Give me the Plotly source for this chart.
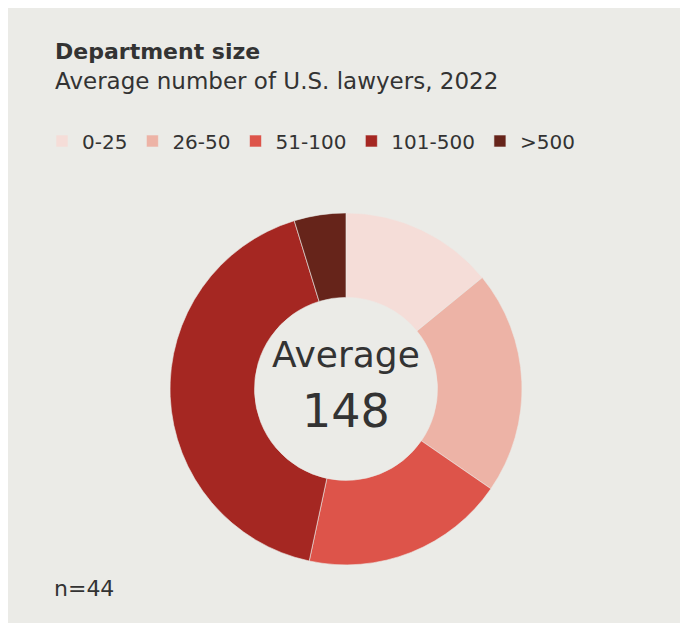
import plotly.graph_objects as go

categories = ["0-25", "26-50", "51-100", "101-500", ">500"]
shares = [14.1, 20.5, 18.75, 41.9, 4.75]
colors = ["#F5DDD8", "#EDB3A6", "#DD544A", "#A52722", "#66241A"]
title_text = "Department size"
subtitle_text = "Average number of U.S. lawyers, 2022"
center_label = "Average"
center_value = "148"
note_text = "n=44"

W, H = 680, 615
BG = "#EBEBE7"
TXT = "#333333"
FONT = "DejaVu Sans"

fig = go.Figure(go.Pie(
    labels=categories,
    values=shares,
    marker=dict(colors=colors, line=dict(color=BG, width=0.6)),
    hole=0.52,
    sort=False,
    direction="clockwise",
    rotation=0,
    textinfo="none",
    hoverinfo="label+percent",
    domain=dict(x=[0.2382, 0.7559], y=[0.0945, 0.6668]),
))

fig.update_layout(
    width=W, height=H,
    margin=dict(l=0, r=0, t=0, b=0),
    paper_bgcolor=BG,
    plot_bgcolor=BG,
    font=dict(family=FONT, color=TXT),
    showlegend=True,
    legend=dict(
        orientation="h",
        x=0.05, y=1 - 133 / H, xanchor="left", yanchor="middle",
        font=dict(size=20, color=TXT, family=FONT),
        bgcolor="rgba(0,0,0,0)",
        itemwidth=30,
        tracegroupgap=0,
    ),
    annotations=[
        dict(text="<b>" + title_text + "</b>", x=45 / W, y=1 - 43 / H, xref="paper", yref="paper",
             xanchor="left", yanchor="middle", showarrow=False, font=dict(size=22, color=TXT)),
        dict(text=subtitle_text, x=45 / W, y=1 - 73 / H, xref="paper", yref="paper",
             xanchor="left", yanchor="middle", showarrow=False, font=dict(size=23, color=TXT)),
        dict(text=center_label, x=338 / W, y=1 - 346 / H, xref="paper", yref="paper",
             xanchor="center", yanchor="middle", showarrow=False, font=dict(size=36, color=TXT)),
        dict(text=center_value, x=338 / W, y=1 - 403 / H, xref="paper", yref="paper",
             xanchor="center", yanchor="middle", showarrow=False, font=dict(size=46, color=TXT)),
        dict(text=note_text, x=44 / W, y=1 - 580 / H, xref="paper", yref="paper",
             xanchor="left", yanchor="middle", showarrow=False, font=dict(size=22, color=TXT)),
    ],
)

fig.write_html("out.html")
